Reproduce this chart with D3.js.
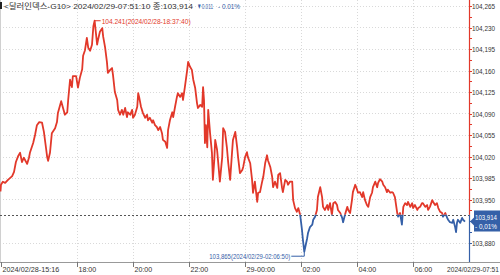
<!DOCTYPE html>
<html>
<head>
<meta charset="utf-8">
<script src="https://cdn.jsdelivr.net/npm/d3@7"></script>
<style>
  body { margin: 0; background: #fff; }
  svg { display: block; font-family: "Liberation Sans", "Noto Sans CJK KR", sans-serif; }
</style>
</head>
<body>
<svg id="chart"></svg>
<script>
// session: 2024/02/28 15:16 ~ 2024/02/29 07:51:10
const startTime = new Date(2024, 1, 28, 15, 16, 0);
const endTime = new Date(2024, 1, 29, 7, 51, 10);
const prevClose = 103.925;
const lastValue = 103.914;
const change = '▼0.011';
const changePct = '- 0.01%';

const yTicks = [104.265, 104.230, 104.195, 104.160, 104.125, 104.090, 104.055,
                104.020, 103.985, 103.950, 103.880];
const xTicks = [
  {time: new Date(2024, 1, 28, 18, 0), label: '18:00'},
  {time: new Date(2024, 1, 28, 20, 0), label: '20:00'},
  {time: new Date(2024, 1, 28, 22, 0), label: '22:00'},
  {time: new Date(2024, 1, 29, 0, 0), label: '29-00:00'},
  {time: new Date(2024, 1, 29, 2, 0), label: '02:00'},
  {time: new Date(2024, 1, 29, 4, 0), label: '04:00'},
  {time: new Date(2024, 1, 29, 6, 0), label: '06:00'}
];

// minutes after 15:16
const minutes = [0, 1, 5, 10, 16, 25, 29, 33, 38, 42, 46, 50, 57, 61, 63, 70, 74, 78, 83, 89,
  93, 98, 100, 102, 106, 110, 117, 121, 123, 130, 134, 138, 143, 145, 149, 153, 155, 162, 166, 170,
  175, 177, 181, 185, 188, 192, 196, 199, 201.67, 207, 209, 213, 218, 220, 224, 228, 230, 235, 239, 241,
  245, 250, 252, 256, 260, 263, 267, 271, 273, 278, 282, 284, 288, 293, 295, 297, 301, 305, 310, 314,
  316, 320, 325, 327, 331, 335, 338, 342, 346, 348, 353, 357, 359, 363, 368, 370, 374, 378, 380, 385,
  389, 391, 395, 400, 402, 406, 410, 413, 417, 421, 423, 428, 432, 434, 436, 438, 440, 443, 445, 449,
  453, 455, 458, 460, 464, 466, 470, 475, 477, 481, 485, 488, 492, 496, 498, 503, 507, 509, 513, 518,
  520, 524, 528, 530, 535, 539, 541, 545, 550, 552, 556, 560, 563, 567, 571, 573, 578, 582, 584, 588,
  593, 595, 599, 603, 605, 610, 614, 616, 620, 625, 627, 631, 635, 638, 642, 646, 648, 650.83, 657, 659,
  663, 668, 670, 674, 678, 680, 685, 689, 691, 695, 700, 702, 706, 710, 713, 717, 721, 723, 728, 732,
  734, 738, 743, 745, 749, 753, 755, 760, 764, 766, 770, 775, 777, 781, 785, 788, 792, 796, 798, 803,
  807, 809, 813, 818, 820, 824, 828, 830, 835, 839, 841, 845, 850, 852, 856, 860, 863, 867, 871, 873,
  878, 882, 884, 888, 893, 895, 899, 903, 905, 910, 914, 916, 920, 925, 927, 931, 935, 938, 942, 946,
  948, 953, 957, 959, 963, 968, 970, 974, 976, 978, 980, 985, 989, 991, 995.17];

const prices = [103.963, 103.974, 103.979, 103.977, 103.982, 103.988, 103.995, 104.011, 104.021, 104.026,
  104.011, 104.018, 104.008, 104.018, 104.026, 104.042, 104.055, 104.071, 104.076, 104.075,
  104.060, 104.031, 104.019, 104.013, 104.026, 104.058, 104.066, 104.076, 104.091, 104.110,
  104.099, 104.088, 104.092, 104.112, 104.145, 104.133, 104.151, 104.151, 104.132, 104.148,
  104.162, 104.184, 104.193, 104.213, 104.197, 104.192, 104.202, 104.232, 104.241, 104.202,
  104.210, 104.223, 104.229, 104.215, 104.198, 104.174, 104.156, 104.161, 104.164, 104.153,
  104.125, 104.112, 104.096, 104.088, 104.096, 104.088, 104.099, 104.084, 104.092, 104.088,
  104.096, 104.083, 104.088, 104.101, 104.123, 104.117, 104.101, 104.091, 104.083, 104.088,
  104.079, 104.083, 104.075, 104.079, 104.071, 104.068, 104.063, 104.068, 104.058, 104.047,
  104.044, 104.034, 104.063, 104.079, 104.092, 104.084, 104.101, 104.117, 104.123, 104.117,
  104.123, 104.112, 104.133, 104.161, 104.174, 104.166, 104.161, 104.145, 104.132, 104.107,
  104.099, 104.104, 104.101, 104.133, 104.112, 104.042, 104.071, 104.035, 104.096, 104.058,
  104.026, 103.982, 104.014, 104.047, 104.031, 104.014, 103.979, 104.019, 104.066, 104.060,
  104.035, 104.009, 103.982, 104.026, 104.047, 104.060, 104.035, 104.019, 103.993, 103.998,
  104.003, 104.019, 104.027, 104.019, 104.009, 103.982, 103.961, 103.979, 103.946, 103.961,
  103.962, 103.977, 103.987, 104.009, 104.022, 104.014, 104.003, 103.987, 103.970, 103.979,
  103.969, 103.990, 103.993, 103.970, 103.962, 103.982, 103.979, 103.974, 103.979, 103.979,
  103.949, 103.936, 103.930, 103.936, 103.925, 103.900, 103.884, 103.865, 103.887, 103.896,
  103.905, 103.909, 103.917, 103.922, 103.933, 103.954, 103.970, 103.954, 103.938, 103.933,
  103.941, 103.933, 103.944, 103.925, 103.944, 103.946, 103.941, 103.933, 103.928, 103.920,
  103.913, 103.925, 103.938, 103.933, 103.928, 103.949, 103.962, 103.974, 103.966, 103.961,
  103.962, 103.954, 103.962, 103.949, 103.941, 103.938, 103.954, 103.961, 103.970, 103.979,
  103.970, 103.977, 103.983, 103.979, 103.974, 103.970, 103.962, 103.966, 103.961, 103.962,
  103.961, 103.954, 103.928, 103.922, 103.928, 103.909, 103.938, 103.944, 103.941, 103.946,
  103.938, 103.944, 103.936, 103.941, 103.933, 103.936, 103.938, 103.944, 103.944, 103.938,
  103.941, 103.933, 103.938, 103.949, 103.946, 103.941, 103.944, 103.936, 103.930, 103.928,
  103.922, 103.928, 103.920, 103.917, 103.913, 103.912, 103.917, 103.905, 103.897, 103.912,
  103.917, 103.912, 103.920, 103.917, 103.914];

const maxLabel = '104.241(2024/02/28-18:37:40)';
const minLabel = '103,865(2024/02/29-02:06:50)';
const titleText = '<달러인덱스-G10> 2024/02/29-07:51:10 종:103,914';

const W = 500, H = 275;
const axisX = 469, baseY = 262;
const RED = '#e2382a', BLUE = '#3560a8';

const data = minutes.map((m, i) => ({t: new Date(startTime.getTime() + m * 60000), v: prices[i]}));

const fmt = v => d3.format('.3f')(v).replace('.', ',');

const svg = d3.select('#chart').attr('width', W).attr('height', H);

const x = d3.scaleTime().domain([startTime, endTime]).range([0.5, 465]);
const y = d3.scaleLinear().domain([103.880, 104.265]).range([242.5, 6]);
const yRef = y(prevClose);

// clip regions above / below the previous close
const defs = svg.append('defs');
defs.append('clipPath').attr('id', 'clipUp')
  .append('rect').attr('x', 0).attr('y', 0).attr('width', axisX).attr('height', yRef);
defs.append('clipPath').attr('id', 'clipDown')
  .append('rect').attr('x', 0).attr('y', yRef).attr('width', axisX).attr('height', baseY - yRef);

// gridlines
svg.append('g').selectAll('line')
  .data(yTicks)
  .join('line')
    .attr('x1', 0).attr('x2', axisX)
    .attr('y1', d => Math.round(y(d)) + 0.5).attr('y2', d => Math.round(y(d)) + 0.5)
    .attr('stroke', '#d9d9d9').attr('stroke-dasharray', '1,2');

svg.append('g').selectAll('line')
  .data(xTicks)
  .join('line')
    .attr('x1', d => Math.round(x(d.time)) + 0.5).attr('x2', d => Math.round(x(d.time)) + 0.5)
    .attr('y1', 0).attr('y2', baseY)
    .attr('stroke', '#d9d9d9').attr('stroke-dasharray', '1,2');

// left border
svg.append('line').attr('x1', 0.5).attr('x2', 0.5).attr('y1', 0).attr('y2', baseY)
  .attr('stroke', '#d0d0d0');

// previous close reference
svg.append('line')
  .attr('x1', 0).attr('x2', axisX)
  .attr('y1', Math.round(yRef) + 0.5).attr('y2', Math.round(yRef) + 0.5)
  .attr('stroke', '#555').attr('stroke-dasharray', '2,2');

// price line in two colours
const line = d3.line().x(d => x(d.t)).y(d => y(d.v));
svg.append('path').datum(data)
  .attr('d', line).attr('fill', 'none')
  .attr('stroke', RED).attr('stroke-width', 1.8).attr('stroke-linejoin', 'round')
  .attr('clip-path', 'url(#clipUp)');
svg.append('path').datum(data)
  .attr('d', line).attr('fill', 'none')
  .attr('stroke', BLUE).attr('stroke-width', 1.8).attr('stroke-linejoin', 'round')
  .attr('clip-path', 'url(#clipDown)');

// bottom axis
svg.append('line').attr('x1', 0).attr('x2', W).attr('y1', baseY + 0.5).attr('y2', baseY + 0.5)
  .attr('stroke', '#999');
const xTickAll = [{time: startTime, label: '2024/02/28-15:16'}].concat(xTicks);
const xg = svg.append('g').selectAll('g')
  .data(xTickAll)
  .join('g')
    .attr('transform', d => `translate(${Math.round(x(d.time)) + 0.5},0)`);
xg.append('line').attr('y1', baseY).attr('y2', baseY + 5).attr('stroke', '#777');
xg.append('text')
  .attr('x', 1).attr('y', 272)
  .attr('font-size', 8).attr('fill', '#333')
  .attr('textLength', d => d.label.length * 3.55)
  .attr('lengthAdjust', 'spacingAndGlyphs')
  .text(d => d.label);
svg.append('text')
  .attr('x', 447).attr('y', 272)
  .attr('font-size', 8).attr('fill', '#333')
  .attr('textLength', 52).attr('lengthAdjust', 'spacingAndGlyphs')
  .text('2024/02/29-07:51');

// right axis: red above prev close, blue below
svg.append('line').attr('x1', axisX + 0.5).attr('x2', axisX + 0.5).attr('y1', 0).attr('y2', yRef)
  .attr('stroke', RED).attr('stroke-width', 1.2);
svg.append('line').attr('x1', axisX + 0.5).attr('x2', axisX + 0.5).attr('y1', yRef).attr('y2', baseY)
  .attr('stroke', BLUE).attr('stroke-width', 1.2);

const minorTicks = d3.range(103.880, 104.2651, 0.0175);
svg.append('g').selectAll('line')
  .data(minorTicks)
  .join('line')
    .attr('x1', axisX).attr('x2', axisX + 3)
    .attr('y1', d => Math.round(y(d)) + 0.5).attr('y2', d => Math.round(y(d)) + 0.5)
    .attr('stroke', d => d >= prevClose ? RED : BLUE);

svg.append('g').selectAll('text')
  .data(yTicks)
  .join('text')
    .attr('x', 472).attr('y', d => y(d) + 3)
    .attr('font-size', 8).attr('fill', '#333')
    .attr('textLength', 23).attr('lengthAdjust', 'spacingAndGlyphs')
    .text(d => fmt(d));

// current value tag
const yl = y(lastValue);
svg.append('path')
  .attr('d', `M${axisX + 1},${yl} L${axisX + 5},${yl - 4} V${yl - 11} H${W} V${yl + 10} H${axisX + 5} V${yl + 4} Z`)
  .attr('fill', BLUE);
svg.append('text')
  .attr('x', 475).attr('y', yl - 2)
  .attr('font-size', 8).attr('fill', '#fff')
  .attr('textLength', 22).attr('lengthAdjust', 'spacingAndGlyphs')
  .text(fmt(lastValue));
svg.append('text')
  .attr('x', 475).attr('y', yl + 7)
  .attr('font-size', 8).attr('fill', '#fff')
  .attr('textLength', 22).attr('lengthAdjust', 'spacingAndGlyphs')
  .text(changePct.replace('.', ','));

// max / min annotations
const maxPt = data[d3.maxIndex(data, d => d.v)];
const minPt = data[d3.minIndex(data, d => d.v)];
const mx = x(maxPt.t), my = y(maxPt.v);
svg.append('path').attr('d', `M${mx},${my} H${mx + 6}`).attr('stroke', RED).attr('fill', 'none');
svg.append('text')
  .attr('x', mx + 7).attr('y', my + 3)
  .attr('font-size', 8).attr('fill', RED)
  .attr('textLength', 89).attr('lengthAdjust', 'spacingAndGlyphs')
  .text(maxLabel);

const nx = x(minPt.t), ny = y(minPt.v);
svg.append('path').attr('d', `M${nx - 13},${ny + 4.5} H${nx} V${ny}`).attr('stroke', BLUE).attr('fill', 'none');
svg.append('text')
  .attr('x', nx - 14).attr('y', ny + 7.5).attr('text-anchor', 'end')
  .attr('font-size', 8).attr('fill', BLUE)
  .attr('textLength', 81).attr('lengthAdjust', 'spacingAndGlyphs')
  .text(minLabel);

// title
svg.append('rect').attr('x', 0).attr('y', 2).attr('width', 2).attr('height', 7).attr('fill', '#222');
svg.append('text')
  .attr('x', 4).attr('y', 9)
  .attr('font-size', 8).attr('fill', '#333')
  .attr('textLength', 189).attr('lengthAdjust', 'spacingAndGlyphs')
  .text(titleText);
svg.append('text')
  .attr('x', 197).attr('y', 9)
  .attr('font-size', 8).attr('fill', BLUE)
  .attr('textLength', 16).attr('lengthAdjust', 'spacingAndGlyphs')
  .text(change);
svg.append('text')
  .attr('x', 218).attr('y', 9)
  .attr('font-size', 8).attr('fill', BLUE)
  .attr('textLength', 22).attr('lengthAdjust', 'spacingAndGlyphs')
  .text(changePct);
</script>
</body>
</html>
